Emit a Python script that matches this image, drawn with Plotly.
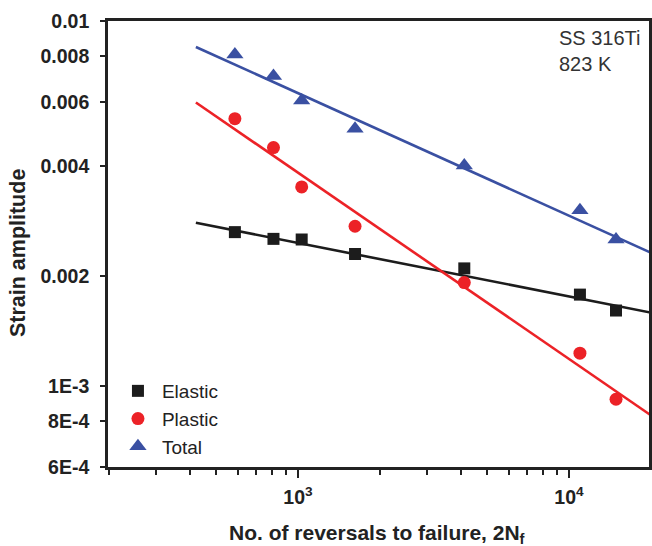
import plotly.graph_objects as go
import numpy as np

# Data
reversals = [585, 812, 1032, 1624, 4110, 10980, 14920]
elastic = [0.00264, 0.00253, 0.00252, 0.00230, 0.00210, 0.00178, 0.00161]
plastic = [0.00540, 0.00450, 0.00351, 0.00274, 0.00192, 0.00123, 0.00092]
total = [0.00810, 0.00707, 0.00606, 0.00507, 0.00402, 0.00303, 0.00252]

# Fitted lines (end points)
fit_x = [420, 20000]
fit_elastic = [0.00280, 0.00159]
fit_plastic = [0.00598, 0.000833]
fit_total = [0.00849, 0.00232]

ytick_vals = [0.01, 0.008, 0.006, 0.004, 0.002, 0.001, 0.0008, 0.0006]
ytick_text = ["0.01", "0.008", "0.006", "0.004", "0.002", "1E-3", "8E-4", "6E-4"]
xtick_vals = [1000, 10000]
xtick_text = ["10<sup>3</sup>", "10<sup>4</sup>"]
xminor_vals = [200, 300, 400, 500, 600, 700, 800, 900,
               2000, 3000, 4000, 5000, 6000, 7000, 8000, 9000, 20000]

BLACK = "#1c1c1c"
RED = "#ec2227"
BLUE = "#3a50a2"
AX = "#222222"
FONT = "Liberation Sans, Arial, sans-serif"

fig = go.Figure()
for fy, col in [(fit_elastic, BLACK), (fit_plastic, RED), (fit_total, BLUE)]:
    fig.add_trace(go.Scatter(x=fit_x, y=fy, mode="lines",
                             line=dict(color=col, width=2.6),
                             showlegend=False, hoverinfo="skip"))

fig.add_trace(go.Scatter(x=reversals, y=elastic, mode="markers", name="Elastic",
                         marker=dict(symbol="square", size=12, color=BLACK)))
fig.add_trace(go.Scatter(x=reversals, y=plastic, mode="markers", name="Plastic",
                         marker=dict(symbol="circle", size=13, color=RED)))
fig.add_trace(go.Scatter(x=reversals, y=total, mode="markers", name="Total",
                         marker=dict(symbol="triangle-up", size=15, color=BLUE)))

fig.update_layout(
    width=652, height=546,
    margin=dict(l=108, r=0, t=21, b=79),
    paper_bgcolor="white", plot_bgcolor="white",
    font=dict(family=FONT, color=AX, size=18),
    showlegend=True,
    legend=dict(x=0.011, y=0.213, xanchor="left", yanchor="top",
                bgcolor="rgba(0,0,0,0)", font=dict(size=19, color="#222"),
                tracegroupgap=0, itemwidth=38),
    xaxis=dict(type="log", range=[np.log10(199), 4.2955],
               tickmode="array", tickvals=xtick_vals, ticktext=xtick_text,
               ticks="outside", ticklen=8, tickwidth=2.2, tickcolor=AX,
               minor=dict(tickmode="array", tickvals=xminor_vals, ticks="outside",
                          ticklen=5, tickwidth=2, tickcolor=AX, showgrid=False),
               showline=True, linewidth=2.6, linecolor=AX, mirror=True,
               showgrid=False, zeroline=False,
               tickfont=dict(family=FONT, size=19.5, color=AX, weight="bold"),
               ticklabelstandoff=3),
    yaxis=dict(type="log", range=[np.log10(0.0006), -2],
               tickmode="array", tickvals=ytick_vals, ticktext=ytick_text,
               ticks="outside", ticklen=5, tickwidth=2.2, tickcolor=AX,
               showline=True, linewidth=2.6, linecolor=AX, mirror=True,
               showgrid=False, zeroline=False,
               tickfont=dict(family=FONT, size=19.5, color=AX, weight="bold"),
               ticklabelstandoff=7),
    annotations=[
        dict(text="No. of reversals to failure, 2N<sub>f</sub>", xref="paper", yref="paper",
             x=0.497, y=-0.15, xanchor="center", yanchor="middle", showarrow=False,
             font=dict(family=FONT, size=21, color=AX, weight="bold")),
        dict(text="Strain amplitude", xref="paper", yref="paper",
             x=-0.165, y=0.479, xanchor="center", yanchor="middle", showarrow=False,
             textangle=-90, font=dict(family=FONT, size=21.5, color=AX, weight="bold")),
        dict(text="SS 316Ti<br>823 K", xref="paper", yref="paper",
             x=0.83, y=0.99, xanchor="left", yanchor="top", showarrow=False,
             align="left", font=dict(family=FONT, size=20, color="#333")),
    ],
)

fig.write_html("out.html")
